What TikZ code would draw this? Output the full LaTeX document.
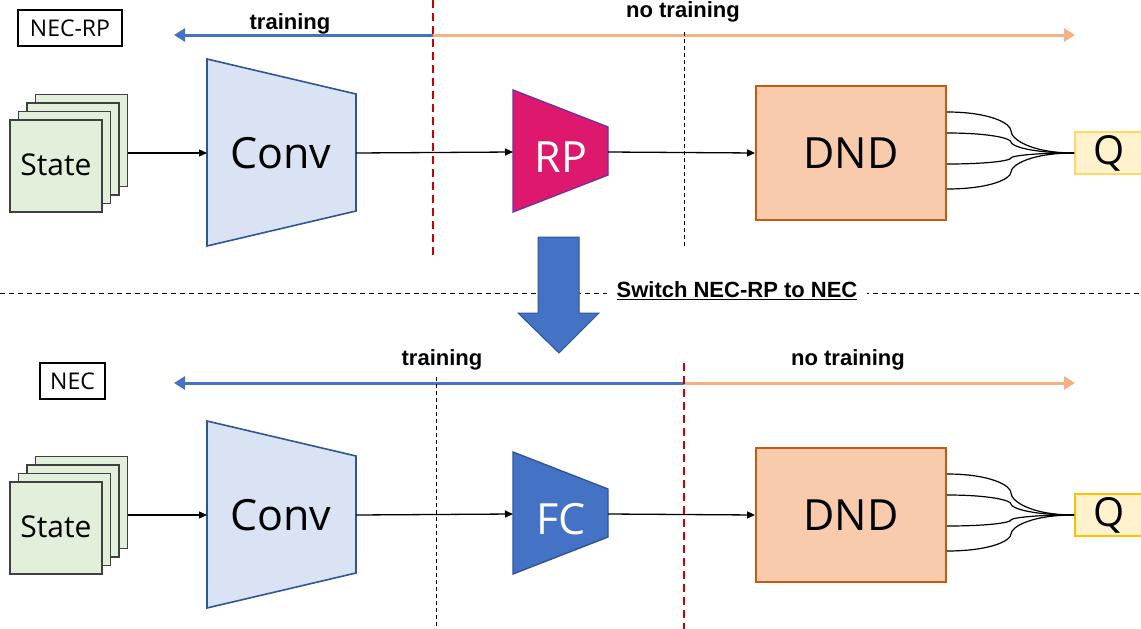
\documentclass[tikz,border=0pt]{standalone}
\usepackage{fontspec}
\setmainfont{Open Sans}
\newfontfamily\labfont{Liberation Sans}
\usetikzlibrary{arrows.meta}
\definecolor{trainblue}{HTML}{4472C4}
\definecolor{notrain}{HTML}{F4B183}
\definecolor{reddash}{HTML}{CC0000}
\definecolor{convfill}{HTML}{DAE3F3}
\definecolor{convdraw}{HTML}{2F5597}
\definecolor{rpfill}{HTML}{DE186C}
\definecolor{rpdraw}{HTML}{7030A0}
\definecolor{dndfill}{HTML}{F8CBAD}
\definecolor{dnddraw}{HTML}{C55A11}
\definecolor{qfill}{HTML}{FFF2CC}
\definecolor{qdrawa}{HTML}{FFD966}
\definecolor{qdrawb}{HTML}{FFC000}
\definecolor{statefill}{HTML}{E2EFDA}
\definecolor{statedraw}{HTML}{404040}
\begin{document}
\begin{tikzpicture}[x=1pt,y=-1pt,
  conn/.style={-{Triangle[length=8pt,width=7pt]}, line width=1.3pt},
  trainarr/.style={line width=3pt, draw=trainblue, -{Triangle[length=11pt,width=13pt]}},
  notrainarr/.style={line width=3pt, draw=notrain, -{Triangle[length=11pt,width=13pt]}},
  reddashed/.style={draw=reddash, line width=2.2pt, dash pattern=on 8pt off 5pt},
  blackdashed/.style={draw=black, line width=0.9pt, dash pattern=on 4pt off 3pt},
  namebox/.style={draw, line width=1.1pt, inner sep=0pt, font=\fontsize{23}{26}\selectfont},
  statebox/.style={draw=statedraw, fill=statefill, line width=1.2pt, minimum width=92pt, minimum height=92pt, inner sep=0pt},
  statetext/.style={anchor=base, font=\fontsize{30}{34}\selectfont},
  bigtext/.style={anchor=base, font=\fontsize{43}{48}\selectfont},
  convshape/.style={draw=convdraw, fill=convfill, line width=1.6pt},
  rpshape/.style={draw=rpdraw, fill=rpfill, line width=1.4pt},
  fcshape/.style={draw=convdraw, fill=trainblue, line width=1.4pt},
  dndbox/.style={draw=dnddraw, fill=dndfill, line width=1.8pt, minimum width=190pt, minimum height=134pt, inner sep=0pt, font=\fontsize{43}{48}\selectfont},
  qbox/.style={fill=qfill, line width=2pt, minimum width=68pt, minimum height=42pt, inner sep=0pt, font=\fontsize{40}{44}\selectfont},
  boldlbl/.style={anchor=base, font=\labfont\bfseries\fontsize{22}{26}\selectfont},
  fanline/.style={line width=1.2pt}
]
\useasboundingbox (0,0) rectangle (1141,629);

% ================= TOP ROW (NEC-RP) =================
\node[namebox, minimum width=104pt, minimum height=36pt] (necrp) at (70,28) {NEC-RP};

\coordinate (splitA) at (433,35);
\coordinate (leftA) at (174,35);
\coordinate (rightA) at (1075,35);
\draw[trainarr] (splitA) -- (leftA);
\draw[notrainarr] (splitA) -- (rightA);
\node[boldlbl] (trainA) at (290,29) {training};
\node[boldlbl] (notrainA) at (683,17) {no training};

\node[statebox] (stA3) at (81.5,140.5) {};
\node[statebox] (stA2) at (73,149) {};
\node[statebox] (stA1) at (64.5,157.5) {};
\node[statebox] (stA) at (56,166) {};
\node[statetext] (stAtxt) at (56,175) {State};

\coordinate (cA1) at (207,59);
\coordinate (cA2) at (356,94);
\coordinate (cA3) at (356,211);
\coordinate (cA4) at (207,246);
\draw[convshape] (cA1) -- (cA2) -- (cA3) -- (cA4) -- cycle;
\node[bigtext] (convA) at (281,168) {Conv};
\coordinate (convAin) at (207,153);
\coordinate (convAout) at (356,153);

\coordinate (rA1) at (513,90);
\coordinate (rA2) at (608,127);
\coordinate (rA3) at (608,175);
\coordinate (rA4) at (513,212);
\draw[rpshape] (rA1) -- (rA2) -- (rA3) -- (rA4) -- cycle;
\node[bigtext, text=white] (rp) at (561,172) {RP};
\coordinate (rpin) at (513,152);
\coordinate (rpout) at (608,152);

\node[dndbox] (dndA) at (851,153) {DND};
\node[qbox, draw=qdrawa] (qA) at (1109,153) {Q};

\draw[conn] (stA3.east |- convAin) -- (convAin);
\draw[conn] (convAout) -- (rpin);
\draw[conn] (rpout) -- (dndA.west);
\foreach \yy/\ym in {112/131,133/142,164/158,189/172}
  \draw[fanline] (dndA.east |- 0,\yy) .. controls (990,\yy) and (1011,{\ym-0.4*(\ym-\yy)}) .. (1011,\ym)
     .. controls (1011,{\ym+0.35*(153-\ym)}) and (1030,153) .. (qA.west);

\draw[reddashed] (433,0) coordinate (rdA1) -- (433,255) coordinate (rdA2);
\draw[blackdashed] (684,32) coordinate (bdA1) -- (684,247) coordinate (bdA2);

% ================= SWITCH =================
\draw[blackdashed, dash pattern=on 5pt off 4pt] (0,293) coordinate (hl) -- (1141,293) coordinate (hr);
\node[boldlbl, anchor=center, fill=white, inner xsep=10pt, inner ysep=3pt] (switch) at (737,291) {\underline{Switch NEC-RP to NEC}};
\draw[draw=convdraw, fill=trainblue, line width=1pt]
  (538,237) -- (579,237) -- (579,313) -- (599,313) -- (559,353) -- (518,313) -- (538,313) -- cycle;

% ================= BOTTOM ROW (NEC) =================
\node[namebox, minimum width=65pt, minimum height=36pt] (nec) at (72.5,381) {NEC};

\coordinate (splitB) at (684,383);
\coordinate (leftB) at (174,383);
\coordinate (rightB) at (1075,383);
\draw[trainarr] (splitB) -- (leftB);
\draw[notrainarr] (splitB) -- (rightB);
\node[boldlbl] (trainB) at (442,365) {training};
\node[boldlbl] (notrainB) at (848,365) {no training};

\node[statebox] (stB3) at (81.5,502.5) {};
\node[statebox] (stB2) at (73,511) {};
\node[statebox] (stB1) at (64.5,519.5) {};
\node[statebox] (stB) at (56,528) {};
\node[statetext] (stBtxt) at (56,537) {State};

\coordinate (cB1) at (207,421);
\coordinate (cB2) at (356,456);
\coordinate (cB3) at (356,573);
\coordinate (cB4) at (207,608);
\draw[convshape] (cB1) -- (cB2) -- (cB3) -- (cB4) -- cycle;
\node[bigtext] (convB) at (281,530) {Conv};
\coordinate (convBin) at (207,515);
\coordinate (convBout) at (356,515);

\coordinate (fB1) at (513,452);
\coordinate (fB2) at (608,489);
\coordinate (fB3) at (608,537);
\coordinate (fB4) at (513,574);
\draw[fcshape] (fB1) -- (fB2) -- (fB3) -- (fB4) -- cycle;
\node[bigtext, text=white] (fc) at (561,534) {FC};
\coordinate (fcin) at (513,514);
\coordinate (fcout) at (608,514);

\node[dndbox] (dndB) at (851,515) {DND};
\node[qbox, draw=qdrawb] (qB) at (1109,515) {Q};

\draw[conn] (stB3.east |- convBin) -- (convBin);
\draw[conn] (convBout) -- (fcin);
\draw[conn] (fcout) -- (dndB.west);
\foreach \yy/\ym in {474/493,495/504,526/520,551/534}
  \draw[fanline] (dndB.east |- 0,\yy) .. controls (990,\yy) and (1011,{\ym-0.4*(\ym-\yy)}) .. (1011,\ym)
     .. controls (1011,{\ym+0.35*(515-\ym)}) and (1030,515) .. (qB.west);

\draw[reddashed] (684,363) coordinate (rdB1) -- (684,629) coordinate (rdB2);
\draw[blackdashed] (436,377) coordinate (bdB1) -- (436,629) coordinate (bdB2);
\end{tikzpicture}
\end{document}
